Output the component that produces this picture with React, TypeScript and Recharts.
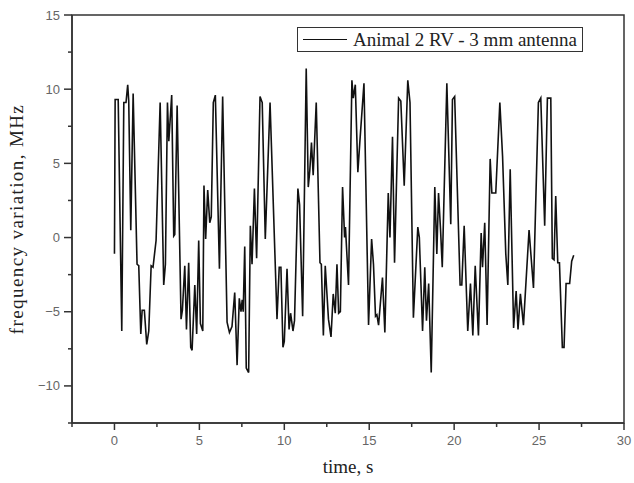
import { LineChart, Line, XAxis, YAxis, ReferenceArea, Legend } from 'recharts'

// time, s
const time = [
  0.0, 0.04, 0.22, 0.43, 0.55, 0.68, 0.78, 0.84, 0.96, 1.1, 1.33, 1.43, 1.55, 1.63, 1.76, 1.9, 2.02, 2.16, 2.27, 2.45,
  2.69, 2.9, 3.0, 3.12, 3.2, 3.37, 3.49, 3.55, 3.69, 3.92, 4.0, 4.14, 4.24, 4.37, 4.49, 4.57, 4.73, 4.84, 4.96, 5.06,
  5.2, 5.27, 5.37, 5.49, 5.61, 5.7, 5.82, 5.94, 6.18, 6.37, 6.63, 6.77, 6.92, 7.08, 7.22, 7.35, 7.45, 7.52, 7.58, 7.67,
  7.76, 7.9, 8.0, 8.1, 8.24, 8.37, 8.57, 8.7, 8.88, 9.16, 9.57, 9.7, 9.8, 9.92, 10.0, 10.16, 10.28, 10.37, 10.51, 10.6,
  10.8, 10.9, 11.08, 11.29, 11.41, 11.5, 11.6, 11.7, 11.88, 12.1, 12.18, 12.3, 12.41, 12.6, 12.75, 12.88, 13.0, 13.1, 13.2, 13.3,
  13.43, 13.55, 13.6, 13.78, 13.98, 14.06, 14.18, 14.33, 14.45, 14.69, 14.96, 15.14, 15.25, 15.37, 15.45, 15.55, 15.78, 15.92, 16.12, 16.22,
  16.37, 16.49, 16.6, 16.73, 16.86, 17.06, 17.27, 17.4, 17.6, 17.86, 17.95, 18.14, 18.27, 18.37, 18.5, 18.65, 18.86, 18.98, 19.08, 19.2,
  19.3, 19.57, 19.8, 19.9, 20.03, 20.35, 20.45, 20.59, 20.8, 20.96, 21.1, 21.24, 21.43, 21.59, 21.67, 21.8, 21.94, 22.12, 22.22, 22.45,
  22.69, 22.85, 23.04, 23.16, 23.3, 23.5, 23.65, 23.76, 23.9, 24.08, 24.41, 24.67, 24.96, 25.1, 25.33, 25.49, 25.69, 25.78, 25.88, 25.98,
  26.1, 26.2, 26.37, 26.47, 26.59, 26.8, 26.92, 27.04,
]

// frequency variation, MHz
const freq = [
  -1.1, 9.3, 9.3, -6.3, 9.1, 9.1, 10.3, 9.2, 0.5, 9.7, -1.8, -1.9, -6.5, -4.9, -4.9, -7.2, -6.3, -1.9, -2.0, -0.2,
  9.1, -3.2, -1.8, 9.1, 6.5, 9.6, 0.1, 0.2, 8.9, -5.5, -4.9, -1.9, -6.2, -1.7, -7.4, -7.6, -3.2, -6.5, -0.2, -5.8,
  -6.3, 3.5, -0.1, 3.2, 1.0, 1.4, 9.1, 9.6, -2.1, 9.5, -5.7, -6.4, -6.0, -3.7, -8.6, -4.1, -5.0, -4.2, -5.0, -0.6,
  -8.8, -9.1, 0.8, -1.8, 3.3, -1.4, 9.5, 9.1, -0.1, 9.1, -5.5, -2.0, -2.0, -7.4, -7.0, -2.1, -6.2, -5.1, -6.3, -5.6,
  3.3, 2.2, -5.3, 11.4, 3.4, 4.5, 6.4, 4.2, 9.1, -1.7, -1.8, -6.6, -1.9, -5.5, -6.7, -3.8, -5.1, -1.8, -5.1, -5.0,
  3.4, 0.0, 0.7, -3.2, 10.6, 9.4, 10.3, 4.4, 6.5, 10.4, -5.9, -0.1, -1.8, -5.3, -5.2, -5.9, -2.7, -6.4, 3.0, 0.0,
  6.8, -1.7, 3.4, 9.4, 9.2, 3.5, 10.6, 9.1, -5.4, 0.7, 0.0, -6.3, -2.0, -5.6, -3.1, -9.1, 3.4, -1.1, 3.0, 0.5,
  -2.0, 10.4, 0.9, 9.3, 9.5, -3.2, -3.2, 0.8, -6.3, -3.1, -6.6, -1.9, -6.6, 0.3, -2.0, 1.0, -5.9, 5.3, 3.0, 3.0,
  9.1, 5.5, -1.1, -3.2, 4.6, -6.1, -3.6, -6.2, -3.8, -5.9, 0.5, -3.4, 9.1, 9.4, 0.8, 9.4, 9.4, -1.4, -1.5, 2.8,
  -1.7, -1.7, -7.4, -7.4, -3.1, -3.1, -1.6, -1.2,
]

const xTicks = [-2.5, 0, 2.5, 5, 7.5, 10, 12.5, 15, 17.5, 20, 22.5, 25, 27.5, 30]
const yTicks = [-12.5, -10, -7.5, -5, -2.5, 0, 2.5, 5, 7.5, 10, 12.5, 15]

const seriesName = 'Animal 2 RV - 3 mm antenna'

const data = time.map((t, i) => ({ t, f: freq[i] }))

const axisColor = '#333'
const tickFont = '"Liberation Sans", Arial, sans-serif'
const serif = '"Liberation Serif", "Times New Roman", serif'

const fmt = (v: number) => (v < 0 ? '\u2212' + Math.abs(v) : String(v))

function XTick({ x, y, payload }: any) {
  const major = payload.value % 5 === 0
  return (
    <g>
      <line x1={x} x2={x} y1={y} y2={y + (major ? 7 : 4)} stroke={axisColor} strokeWidth={1.5} />
      {major && (
        <text x={x} y={y + 22} textAnchor="middle" fill="#666" fontSize={13} fontFamily={tickFont}>
          {fmt(payload.value)}
        </text>
      )}
    </g>
  )
}

function YTick({ x, y, payload }: any) {
  const major = payload.value % 5 === 0
  return (
    <g>
      <line x1={x - (major ? 8 : 4)} x2={x} y1={y} y2={y} stroke={axisColor} strokeWidth={1.5} />
      {major && (
        <text x={x - 12} y={y + 4.5} textAnchor="end" fill="#666" fontSize={13} fontFamily={tickFont}>
          {fmt(payload.value)}
        </text>
      )}
    </g>
  )
}

function LegendBox() {
  return (
    <div
      style={{
        display: 'flex',
        alignItems: 'center',
        border: '1.5px solid #333',
        background: '#fff',
        padding: '0 5px',
        height: 23,
        fontFamily: serif,
        fontSize: 19,
        color: '#222',
        whiteSpace: 'nowrap',
      }}
    >
      <span style={{ display: 'inline-block', width: 44, borderTop: '1.6px solid #111', marginRight: 6 }} />
      {seriesName}
    </div>
  )
}

export default function App() {
  return (
    <div style={{ width: 634, height: 483, position: 'relative' }}>
      <style>{'body{margin:0}'}</style>
      <LineChart width={634} height={483} data={data} margin={{ top: 15, right: 10, bottom: 0, left: 0 }}>
        <XAxis
          dataKey="t"
          type="number"
          domain={[-2.5, 30]}
          ticks={xTicks}
          interval={0}
          height={60}
          tickSize={0}
          tickMargin={0}
          tickLine={false}
          stroke={axisColor}
          strokeWidth={1.5}
          tick={<XTick />}
          allowDataOverflow
          label={{
            value: 'time, s',
            position: 'insideBottom',
            offset: 10,
            fill: '#222',
            fontSize: 19,
            fontFamily: serif,
          }}
        />
        <YAxis
          type="number"
          domain={[-12.5, 15]}
          ticks={yTicks}
          interval={0}
          width={72}
          tickSize={0}
          tickMargin={0}
          tickLine={false}
          stroke={axisColor}
          strokeWidth={1.5}
          tick={<YTick />}
          allowDataOverflow
          label={{
            value: 'frequency  variation, MHz',
            angle: -90,
            position: 'insideLeft',
            offset: 16,
            fill: '#222',
            fontSize: 19,
            fontFamily: serif,
            style: { textAnchor: 'middle', whiteSpace: 'pre', letterSpacing: 1.4 },
          }}
        />
        <ReferenceArea x1={-2.5} x2={30} y1={-12.5} y2={15} fill="none" stroke={axisColor} strokeWidth={1.5} />
        <Legend
          layout="vertical"
          align="center"
          verticalAlign="middle"
          content={<LegendBox />}
          wrapperStyle={{ top: 27, left: 297, width: 'auto' }}
        />
        <Line
          type="linear"
          dataKey="f"
          name={seriesName}
          stroke="#111"
          strokeWidth={1.6}
          dot={false}
          isAnimationActive={false}
        />
      </LineChart>
    </div>
  )
}
